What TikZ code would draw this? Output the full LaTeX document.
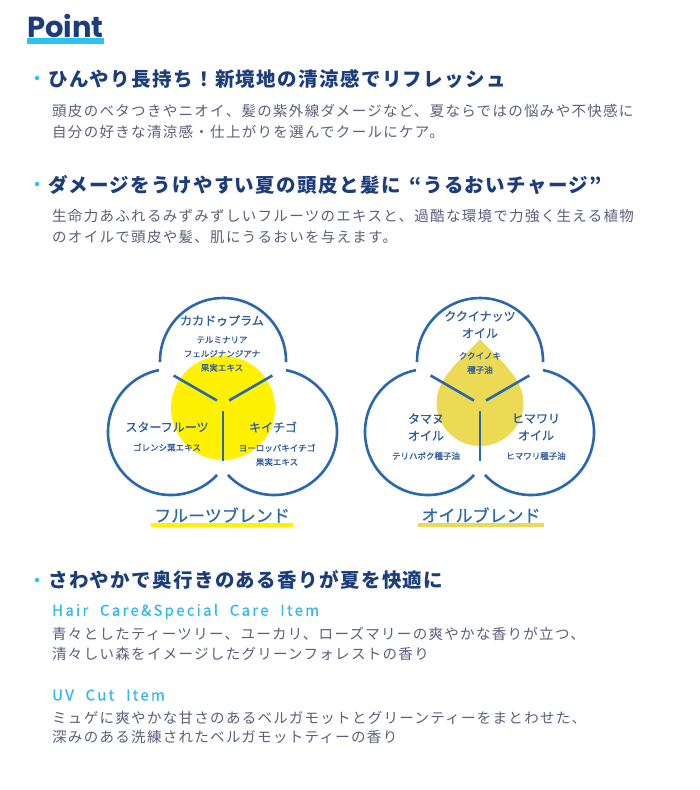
\documentclass[tikz,border=0pt]{standalone}
\usepackage{fontspec}
\setmainfont{Noto Sans CJK JP}
\newfontfamily\pointfont{Poppins}
\newfontfamily\itemfont{Noto Sans CJK JP}[LetterSpace=15, WordSpace=2.1, FakeBold=0.4]
\usetikzlibrary{positioning}

\definecolor{navy}{HTML}{1B3D7C}
\definecolor{pointbar}{HTML}{2BC3F2}
\definecolor{bodygray}{HTML}{5A5F7C}
\definecolor{itemcyan}{HTML}{33B8EC}
\definecolor{ringblue}{HTML}{2A67AE}
\definecolor{labelblue}{HTML}{2E5C9C}
\definecolor{fruityellow}{HTML}{FFF100}
\definecolor{oilyellow}{HTML}{ECD954}

\tikzset{
    headline/.style={anchor=west, inner sep=0, text=navy, font=\fontsize{19.5}{24}\selectfont\bfseries\addfontfeatures{LetterSpace=7}},
    bodyline/.style={anchor=west, inner sep=0, text=bodygray, font=\fontsize{14.5}{20}\selectfont\addfontfeatures{LetterSpace=9}},
    itemline/.style={anchor=west, inner sep=0, text=itemcyan, font=\itemfont\fontsize{15}{20}\selectfont},
    bulletdot/.style={circle, fill=pointbar, inner sep=0, minimum size=4.5pt},
    ring/.style={draw=ringblue, line width=2.6pt},
    mainlabel/.style={inner sep=0, align=center, text=labelblue, font=\fontsize{12}{17}\selectfont\addfontfeatures{FakeBold=0.9}},
    subtext/.style={inner sep=0, align=center, text=labelblue, font=\fontsize{8.5}{14}\selectfont\addfontfeatures{FakeBold=0.9}},
    blendlabel/.style={inner sep=0, text=ringblue, font=\fontsize{17}{20}\selectfont\addfontfeatures{FakeBold=0.5}}
}

\begin{document}
\begin{tikzpicture}[x=1pt, y=1pt]

    \fill[white] (0,0) rectangle (700,-790);
    \useasboundingbox (0,0) rectangle (700,-790);

    \node[anchor=base west, inner sep=0, text=navy, font=\pointfont\bfseries\fontsize{29}{32}\selectfont] (point) at (27,-37) {Point};
    \fill[pointbar] ([yshift=-0.5pt]point.base west) rectangle ([yshift=-7pt]point.base east);

    % first point
    \node[bulletdot] (b1) at (37,-78) {};
    \node[headline] (h1) at (48,-79) {ひんやり長持ち！新境地の清涼感でリフレッシュ};
    \node[bodyline] (t1a) at (52,-111) {頭皮のベタつきやニオイ、髪の紫外線ダメージなど、夏ならではの悩みや不快感に};
    \node[bodyline] (t1b) at (52,-131.5) {自分の好きな清涼感・仕上がりを選んでクールにケア。};

    % second point
    \node[bulletdot] (b2) at (37,-184) {};
    \node[headline] (h2) at (48,-185) {ダメージをうけやすい夏の頭皮と髪に\hspace{9pt}“うるおいチャージ”};
    \node[bodyline] (t2a) at (52,-216) {生命力あふれるみずみずしいフルーツのエキスと、過酷な環境で力強く生える植物};
    \node[bodyline] (t2b) at (52,-237.5) {のオイルで頭皮や髪、肌にうるおいを与えます。};

    % fruit blend
    \fill[fruityellow] (223,-408) circle[radius=52pt];
    % oil blend
    \fill[oilyellow] (480,-339) .. controls (470,-352) and (436.5,-375) .. (436.5,-402.5)
        arc[start angle=180, end angle=360, radius=43.5pt]
        .. controls (523.5,-375) and (490,-352) .. (480,-339) -- cycle;

    \foreach \ox in {223,480} {
        \draw[ring] (\ox,-361) ++(-1:63pt) arc[start angle=-1, end angle=181, radius=63pt];
        \draw[ring] (\ox-52,-432) ++(101:63pt) arc[start angle=101, end angle=317, radius=63pt];
        \draw[ring] (\ox+51,-432) ++(79:63pt) arc[start angle=79, end angle=-137, radius=63pt];
        \foreach \a in {150,30,270}
            \draw[ring] (\ox,-404) ++(\a:7pt) -- ++(\a:50pt);
    }

    \node[mainlabel] (kakadu) at (222,-320.5) {カカドゥプラム};
    \node[subtext] (kakadusub) at (222,-354) {テルミナリア\\フェルジナンジアナ\\果実エキス};
    \node[mainlabel] (star) at (167,-427) {スターフルーツ};
    \node[subtext] (starsub) at (167,-447.5) {ゴレンシ葉エキス};
    \node[mainlabel] (rasp) at (273,-427) {キイチゴ};
    \node[subtext] (raspsub) at (277,-455) {ヨーロッパキイチゴ\\果実エキス};
    \node[blendlabel] (fruit) at (222,-515) {フルーツブレンド};
    \draw[fruityellow, line width=4pt] ([xshift=-3pt, yshift=-2.5pt]fruit.south west) -- ([xshift=3pt, yshift=-2.5pt]fruit.south east);

    \node[mainlabel] (kukui) at (480,-324.5) {ククイナッツ\\オイル};
    \node[subtext] (kukuisub) at (480,-363) {ククイノキ\\種子油};
    \node[mainlabel] (tamanu) at (426,-427) {タマヌ\\オイル};
    \node[subtext] (tamanusub) at (426,-456) {テリハボク種子油};
    \node[mainlabel] (sunflower) at (536,-427) {ヒマワリ\\オイル};
    \node[subtext] (sunflowersub) at (536,-456) {ヒマワリ種子油};
    \node[blendlabel] (oil) at (481,-515) {オイルブレンド};
    \draw[oilyellow, line width=4pt] ([xshift=-3pt, yshift=-2.5pt]oil.south west) -- ([xshift=3pt, yshift=-2.5pt]oil.south east);

    % third point
    \node[bulletdot] (b3) at (37,-580) {};
    \node[headline] (h3) at (48,-580) {さわやかで奥行きのある香りが夏を快適に};
    \node[itemline] (i1) at (52,-611.5) {Hair Care\&Special Care Item};
    \node[bodyline] (t3a) at (52,-634) {青々としたティーツリー、ユーカリ、ローズマリーの爽やかな香りが立つ、};
    \node[bodyline] (t3b) at (52,-654) {清々しい森をイメージしたグリーンフォレストの香り};
    \node[itemline] (i2) at (52,-695) {UV Cut Item};
    \node[bodyline] (t4a) at (52,-718) {ミュゲに爽やかな甘さのあるベルガモットとグリーンティーをまとわせた、};
    \node[bodyline] (t4b) at (52,-737) {深みのある洗練されたベルガモットティーの香り};

\end{tikzpicture}
\end{document}
